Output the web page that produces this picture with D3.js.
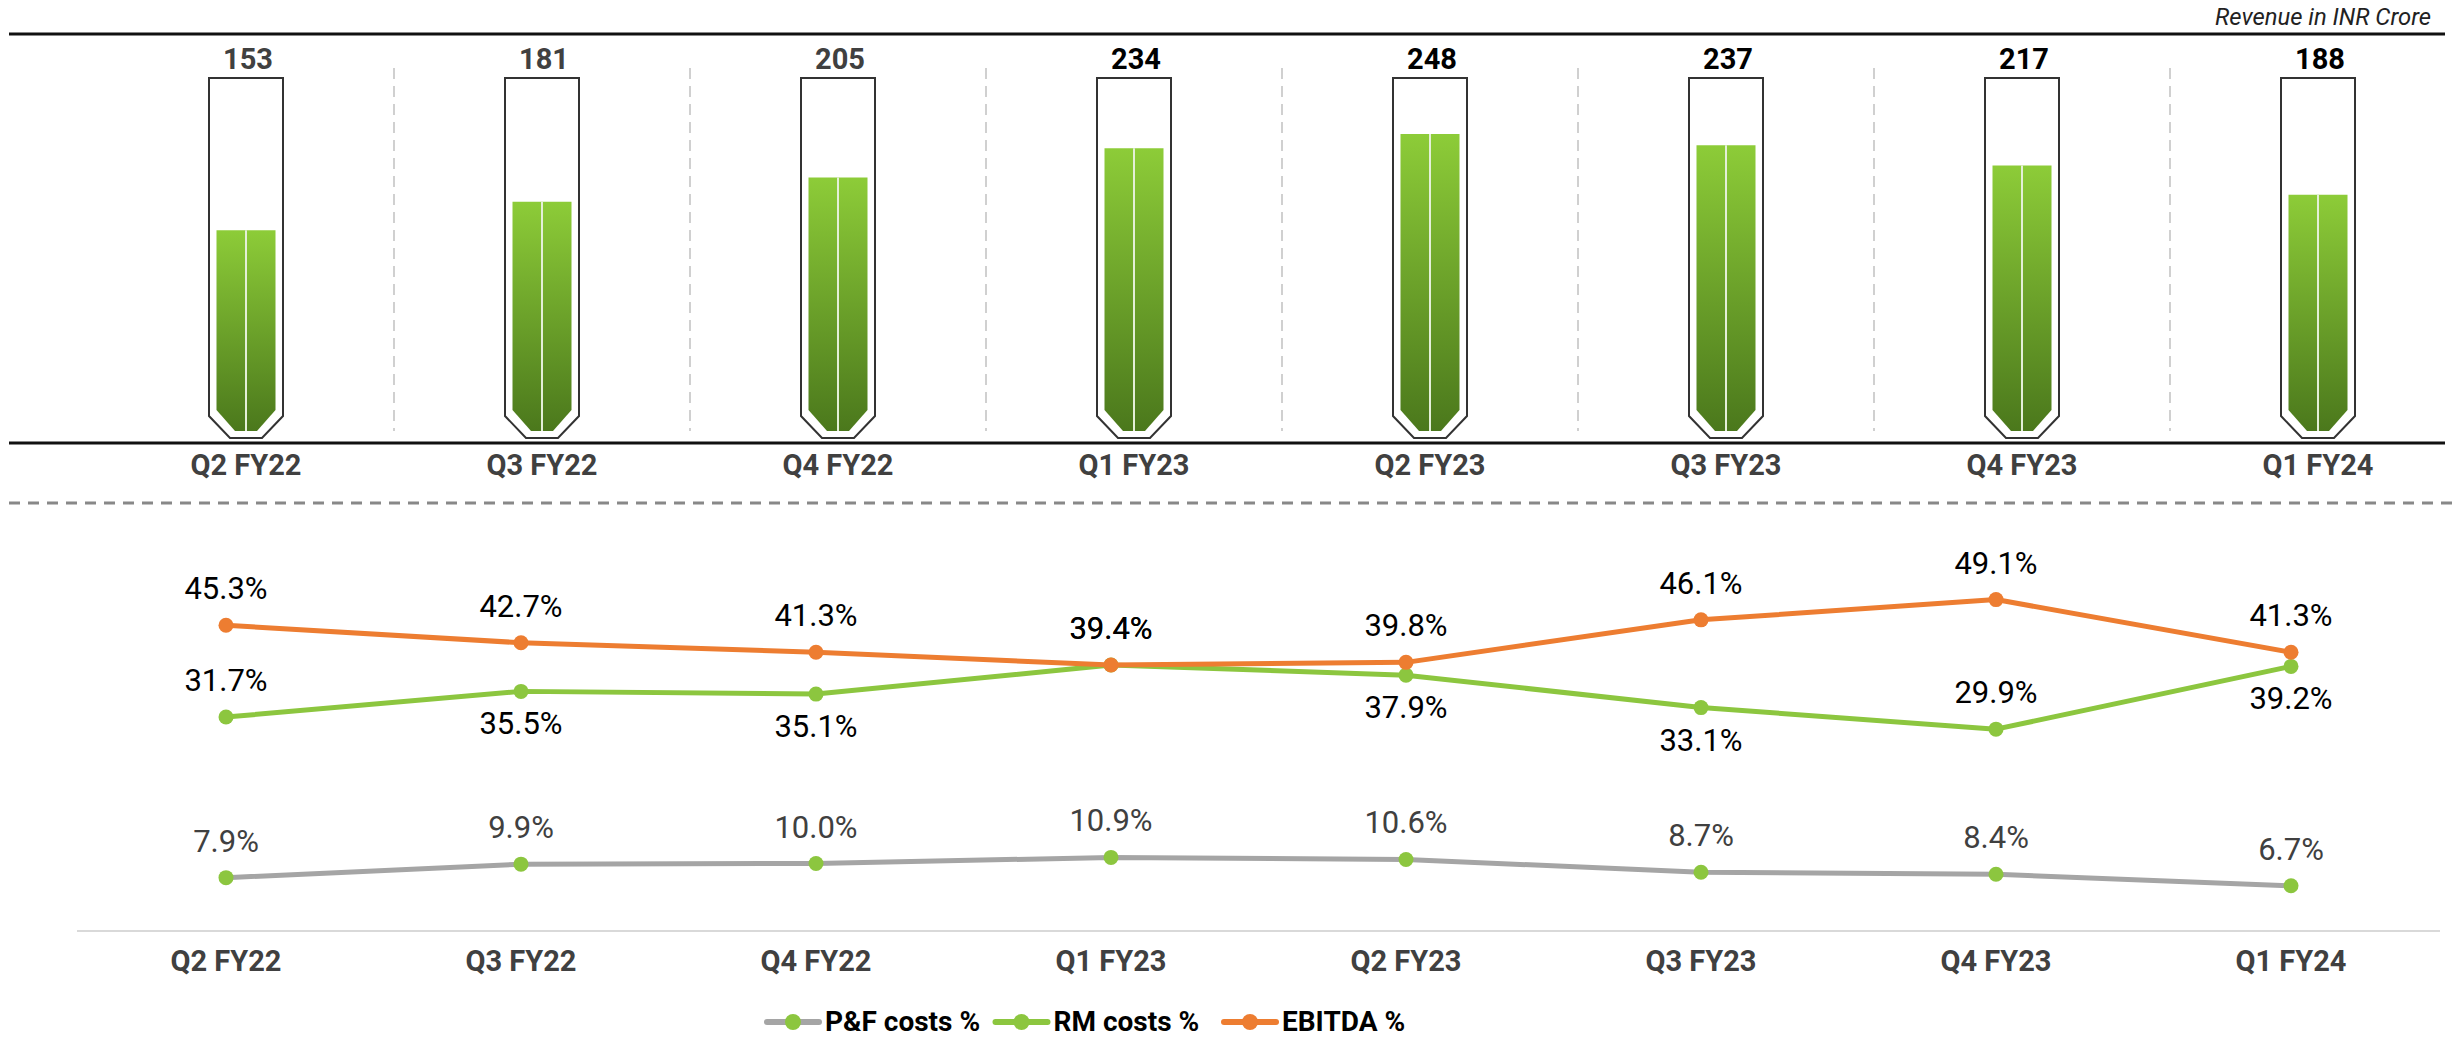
<!DOCTYPE html>
<html>
<head>
<meta charset="utf-8">
<script src="https://cdn.jsdelivr.net/npm/d3@7"></script>
<style>
  body { margin: 0; background: #fff; }
  svg { display: block; font-family: Roboto, "Noto Sans", sans-serif; }
</style>
</head>
<body>
<div id="chart"></div>
<script>
// quarters + values
const categories = ["Q2 FY22", "Q3 FY22", "Q4 FY22", "Q1 FY23", "Q2 FY23", "Q3 FY23", "Q4 FY23", "Q1 FY24"];
const revenue = [153, 181, 205, 234, 248, 237, 217, 188];
const ebitdaPct = [45.3, 42.7, 41.3, 39.4, 39.8, 46.1, 49.1, 41.3];
const rmPct = [31.7, 35.5, 35.1, 39.4, 37.9, 33.1, 29.9, 39.2];
const pfPct = [7.9, 9.9, 10.0, 10.9, 10.6, 8.7, 8.4, 6.7];
const rmLabelAbove = [true, false, false, true, false, false, true, false];

const W = 2456, H = 1039;
const GREEN = "#8cc63f", ORANGE = "#ed7d31", GREY = "#a5a5a5";

const svg = d3.select("#chart").append("svg")
  .attr("width", W).attr("height", H)
  .attr("viewBox", `0 0 ${W} ${H}`);

const defs = svg.append("defs");
const grad = defs.append("linearGradient").attr("id", "tubeFill")
  .attr("x1", 0).attr("y1", 0).attr("x2", 0).attr("y2", 1);
grad.append("stop").attr("offset", "0%").attr("stop-color", "#8dcc38");
grad.append("stop").attr("offset", "100%").attr("stop-color", "#4b781c");

// ---------- top panel: revenue tubes ----------
const xTop = d3.scalePoint().domain(categories).range([246, 2318]);
const yRev = d3.scaleLinear().domain([0, 250]).range([385, 132]);

const tubeTop = 78, tubeSide = 416, tubeBottom = 438, tubeHalf = 37, tubeCham = 21;
const fillHalf = 29.5, fillSide = 410, fillBottom = 431, fillCham = 18.5;

const unit = svg.append("text")
  .attr("x", 2431).attr("y", 25)
  .attr("text-anchor", "end")
  .attr("font-size", 21).attr("font-style", "italic").attr("fill", "#222")
  .text("Revenue in INR Crore");
// size the note so it spans the same width as on the slide
const unitW = unit.node().getComputedTextLength();
if (unitW > 0) unit.attr("font-size", Math.min(30, 21 * 216 / unitW));

svg.append("line").attr("x1", 9).attr("x2", 2445).attr("y1", 34).attr("y2", 34)
  .attr("stroke", "#111").attr("stroke-width", 3);

// dashed dividers between quarters
const step = xTop.step();
svg.append("g").selectAll("line")
  .data(categories.slice(1))
  .join("line")
  .attr("x1", d => xTop(d) - step / 2).attr("x2", d => xTop(d) - step / 2)
  .attr("y1", 68).attr("y2", 431)
  .attr("stroke", "#d0d0d0").attr("stroke-width", 2).attr("stroke-dasharray", "11,7");

const tubes = svg.append("g").selectAll("g")
  .data(categories.map((c, i) => ({ c, v: revenue[i], i })))
  .join("g");

tubes.append("path")
  .attr("d", d => {
    const cx = xTop(d.c);
    return `M${cx - tubeHalf},${tubeTop} H${cx + tubeHalf} V${tubeSide} L${cx + tubeHalf - tubeCham},${tubeBottom}`
      + ` H${cx - tubeHalf + tubeCham} L${cx - tubeHalf},${tubeSide} Z`;
  })
  .attr("fill", "#fff").attr("stroke", "#333").attr("stroke-width", 2);

tubes.append("path")
  .attr("d", d => {
    const cx = xTop(d.c), top = yRev(d.v);
    return `M${cx - fillHalf},${top} H${cx + fillHalf} V${fillSide} L${cx + fillHalf - fillCham},${fillBottom}`
      + ` H${cx - fillHalf + fillCham} L${cx - fillHalf},${fillSide} Z`;
  })
  .attr("fill", "url(#tubeFill)");

tubes.append("line")
  .attr("x1", d => xTop(d.c)).attr("x2", d => xTop(d.c))
  .attr("y1", d => yRev(d.v)).attr("y2", fillBottom)
  .attr("stroke", "#e4efd8").attr("stroke-width", 2);

tubes.append("text")
  .attr("x", d => xTop(d.c) + 2).attr("y", 69)
  .attr("text-anchor", "middle")
  .attr("font-size", 29).attr("font-weight", "bold")
  .attr("fill", d => d.i < 3 ? "#404040" : "#000")
  .text(d => d.v);

svg.append("line").attr("x1", 9).attr("x2", 2445).attr("y1", 443).attr("y2", 443)
  .attr("stroke", "#111").attr("stroke-width", 3);

svg.append("g").selectAll("text")
  .data(categories)
  .join("text")
  .attr("x", d => xTop(d)).attr("y", 475)
  .attr("text-anchor", "middle")
  .attr("font-size", 29).attr("font-weight", "bold").attr("fill", "#404040")
  .text(d => d);

svg.append("line").attr("x1", 9).attr("x2", 2456).attr("y1", 503).attr("y2", 503)
  .attr("stroke", "#888").attr("stroke-width", 3).attr("stroke-dasharray", "11,8");

// ---------- bottom panel: cost / margin lines ----------
const xLow = d3.scalePoint().domain(categories).range([226, 2291]);
const yPct = d3.scaleLinear().domain([0, 60]).range([931, 526]);

svg.append("line").attr("x1", 77).attr("x2", 2440).attr("y1", 931).attr("y2", 931)
  .attr("stroke", "#d9d9d9").attr("stroke-width", 2);

svg.append("g").selectAll("text")
  .data(categories)
  .join("text")
  .attr("x", d => xLow(d)).attr("y", 971)
  .attr("text-anchor", "middle")
  .attr("font-size", 29).attr("font-weight", "bold").attr("fill", "#404040")
  .text(d => d);

const series = [
  { name: "P&F costs %", values: pfPct, line: GREY, dot: GREEN, label: "#404040" },
  { name: "RM costs %", values: rmPct, line: GREEN, dot: GREEN, label: "#000" },
  { name: "EBITDA %", values: ebitdaPct, line: ORANGE, dot: ORANGE, label: "#000" }
];

const line = d3.line().x((v, i) => xLow(categories[i])).y(v => yPct(v));

series.forEach(s => {
  svg.append("path").datum(s.values)
    .attr("d", line)
    .attr("fill", "none").attr("stroke", s.line).attr("stroke-width", 5)
    .attr("stroke-linejoin", "round");
  svg.append("g").selectAll("circle")
    .data(s.values)
    .join("circle")
    .attr("cx", (v, i) => xLow(categories[i])).attr("cy", v => yPct(v))
    .attr("r", 7.5).attr("fill", s.dot);
});

series.forEach(s => {
  svg.append("g").selectAll("text")
    .data(s.values)
    .join("text")
    .attr("x", (v, i) => xLow(categories[i]))
    .attr("y", (v, i) => {
      const below = s.name === "RM costs %" && !rmLabelAbove[i];
      return yPct(v) + (below ? 43 : -26);
    })
    .attr("text-anchor", "middle")
    .attr("font-size", 31).attr("fill", s.label)
    .text(v => v.toFixed(1) + "%");
});

// legend
const legend = svg.append("g").selectAll("g")
  .data(series)
  .join("g")
  .attr("transform", (d, i) => `translate(${765 + i * 228.5},1022)`);
legend.append("line").attr("x1", 2).attr("x2", 54).attr("y1", 0).attr("y2", 0)
  .attr("stroke", d => d.line).attr("stroke-width", 6).attr("stroke-linecap", "round");
legend.append("circle").attr("cx", 28).attr("cy", 0).attr("r", 8).attr("fill", d => d.dot);
legend.append("text").attr("x", 60).attr("y", 9)
  .attr("font-size", 28).attr("font-weight", "bold").attr("fill", "#000")
  .text(d => d.name);
</script>
</body>
</html>
